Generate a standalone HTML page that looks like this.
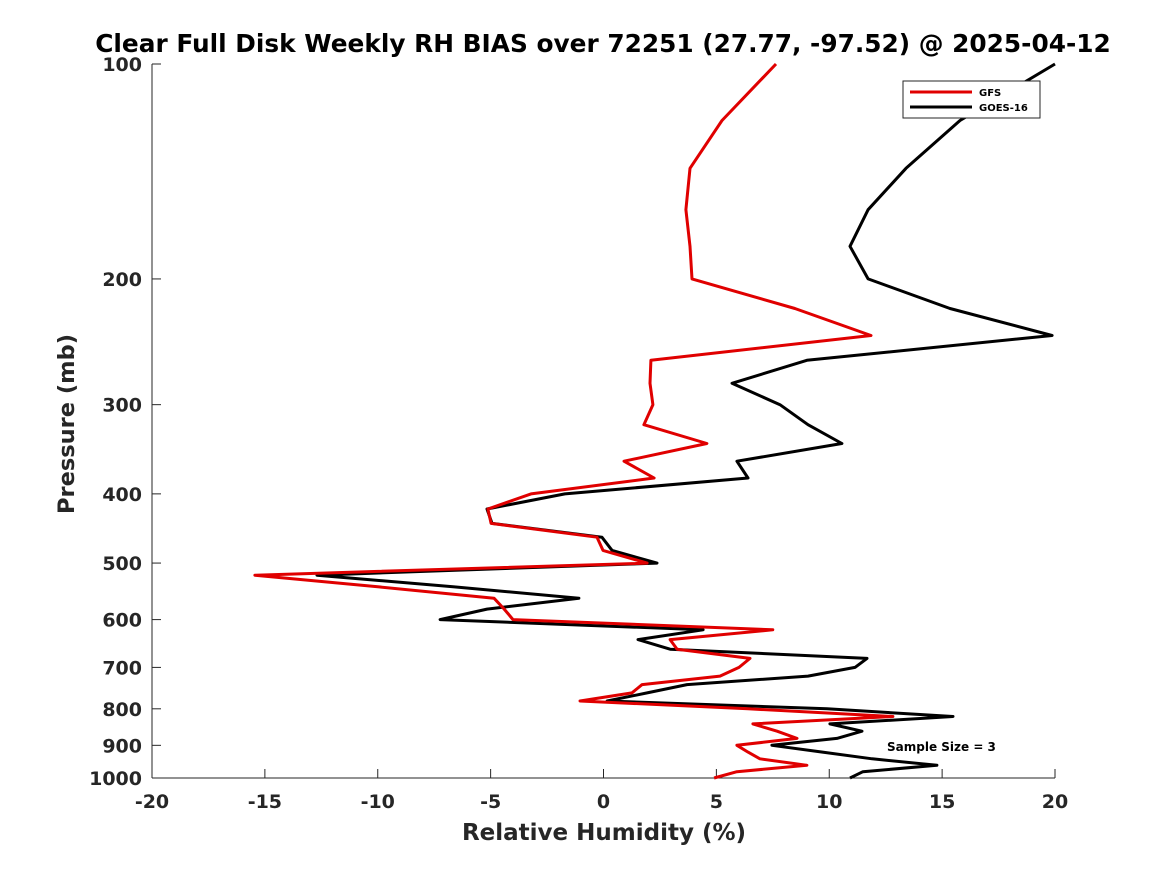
<!DOCTYPE html>
<html><head><meta charset="utf-8"><style>
body{margin:0;background:#fff;}
text{font-family:"DejaVu Sans","Liberation Sans",sans-serif;font-weight:bold;fill:#262626;}
</style></head><body>
<svg id="chart" width="1167" height="875" xmlns="http://www.w3.org/2000/svg">
<rect width="1167" height="875" fill="#fff"/>
<text x="603" y="52" font-size="24.8" text-anchor="middle" fill="#000" style="fill:#000">Clear Full Disk Weekly RH BIAS over 72251 (27.77, -97.52) @ 2025-04-12</text>
<g id="axes"></g>
<g id="series"></g>
<g>
<rect x="903" y="81" width="137" height="37" fill="#fff" stroke="#262626" stroke-width="1"/>
<line x1="910" y1="92" x2="972" y2="92" stroke="#e00000" stroke-width="3"/>
<text x="979" y="96" font-size="10" style="fill:#000">GFS</text>
<line x1="910" y1="107" x2="972" y2="107" stroke="#000" stroke-width="3"/>
<text x="979" y="111" font-size="10" style="fill:#000">GOES-16</text>
</g>
<text x="887" y="751" font-size="12" style="fill:#000">Sample Size = 3</text>
<text x="604" y="840" font-size="23" text-anchor="middle">Relative Humidity (%)</text>
<text transform="translate(74,424) rotate(-90)" font-size="22.5" text-anchor="middle">Pressure (mb)</text>
</svg>
<script>
const levels=[100,120,140,160,180,200,220,240,260,280,300,320,340,360,380,400,420,440,460,480,500,520,540,560,580,600,620,640,660,680,700,720,740,760,780,800,820,840,860,880,900,920,940,960,980,1000];
const gfsValues=[7.64,5.25,3.83,3.65,3.83,3.92,8.48,11.85,2.10,2.06,2.19,1.79,4.58,0.91,2.24,-3.21,-5.12,-4.98,-0.29,-0.02,1.93,-15.44,-9.94,-4.85,-4.4,-4.01,7.5,2.95,3.26,6.49,6.0,5.16,1.71,1.26,-1.04,6.4,12.82,6.62,7.69,8.57,5.91,6.4,6.93,9.01,5.91,4.9];
const goesValues=[20,15.79,13.4,11.72,10.92,11.72,15.35,19.87,9.01,5.69,7.82,9.06,10.56,5.91,6.40,-1.71,-5.16,-4.94,-0.07,0.38,2.37,-12.69,-6.6,-1.09,-5.16,-7.24,4.41,1.53,2.95,11.67,11.14,9.06,3.70,1.93,0.16,9.90,15.48,10.03,11.45,10.34,7.46,9.7,11.9,14.77,11.49,10.92];
const xTicks=[-20,-15,-10,-5,0,5,10,15,20];
const yTicks=[100,200,300,400,500,600,700,800,900,1000];
const X0=152,X1=1055,Y0=64,Y1=778;
function xs(v){return X0+(v+20)/40*(X1-X0);}
function ys(p){return Y0+(Math.log10(p)-2)*(Y1-Y0);}
const NS="http://www.w3.org/2000/svg";
const ax=document.getElementById('axes'),se=document.getElementById('series');
function mk(t,a,parent){const e=document.createElementNS(NS,t);for(const k in a)e.setAttribute(k,a[k]);parent.appendChild(e);return e;}
let l=mk('line',{x1:X0,y1:Y0,x2:X0,y2:Y1,stroke:'#262626','stroke-width':1},ax);


l=mk('line',{x1:X0,y1:Y1,x2:X1,y2:Y1,stroke:'#262626','stroke-width':1},ax);


xTicks.forEach(v=>{const x=xs(v);
 const t=mk('line',{x1:x,y1:Y1,x2:x,y2:Y1-9,stroke:'#262626'},ax);
 
 
 const tx=mk('text',{x:x,y:Y1+30,'font-size':19,'text-anchor':'middle'},ax);tx.textContent=v;
 
 
});
yTicks.forEach(p=>{const y=ys(p);
 const t=mk('line',{x1:X0,y1:y,x2:X0+9,y2:y,stroke:'#262626'},ax);
 
 
 const tx=mk('text',{x:X0-10,y:y+7,'font-size':19,'text-anchor':'end'},ax);tx.textContent=p;
 
 
});
function draw(vals,color,name){
 const pts=vals.map((v,i)=>xs(v).toFixed(1)+','+ys(levels[i]).toFixed(1)).join(' ');
 const pl=mk('polyline',{points:pts,fill:'none',stroke:color,'stroke-width':3,'stroke-linejoin':'round'},se);
 
 
}
draw(goesValues,'#000','goes16-line');
draw(gfsValues,'#e00000','gfs-line');
</script>
</body></html>
